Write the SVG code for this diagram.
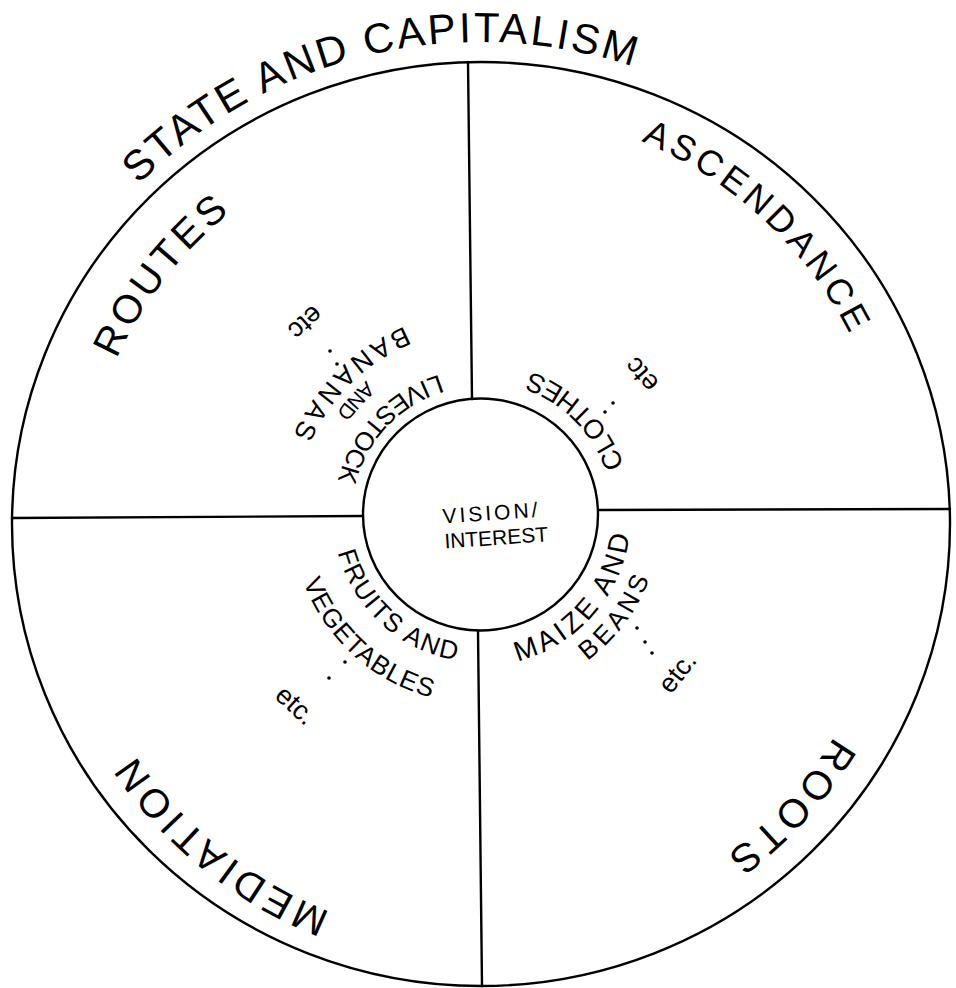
<svg xmlns="http://www.w3.org/2000/svg" width="956" height="988" viewBox="0 0 956 988">
<style>
  .ln{fill:none;stroke:#000;stroke-width:2.4;stroke-linecap:round}
  .t{font-family:"Liberation Sans","DejaVu Sans",sans-serif;fill:#000}
  .big{font-size:40px}
  .mid{font-size:27px}
  .sm{font-size:21px}
  .dot{fill:#000}
</style>
<defs>
  <path id="p-title" d="M 50.4 307.4 A 482 482 0 0 1 769.0 137.5"/>
  <path id="p-asc" d="M 430.4 112.1 A 415 415 0 0 1 895.4 545.7"/>
  <path id="p-roots" d="M 889.5 470.2 A 412 412 0 0 1 463.0 935.6"/>
  <path id="p-med" d="M 560.4 932.4 A 416 416 0 0 1 65.1 531.3"/>
  <path id="p-routes" d="M 89.8 607.2 A 400 400 0 0 1 467.0 124.2"/>
  <path id="p-clothes" d="M 626.8 554.3 A 152 152 0 0 0 440.7 368.2"/>
  <path id="p-live" d="M 514.1 373.0 A 146 146 0 0 0 340.0 556.5"/>
  <path id="p-and1" d="M 518.2 343.2 A 176 176 0 0 0 312.2 567.9"/>
  <path id="p-ban" d="M 532.5 319.0 A 203 203 0 0 0 284.0 567.5"/>
  <path id="p-fruits" d="M 336.2 484.4 A 147 147 0 0 0 525.4 654.8"/>
  <path id="p-veg" d="M 295.1 475.7 A 189 189 0 0 0 538.4 694.8"/>
  <path id="p-maize" d="M 451.2 663.2 A 151 151 0 0 0 622.8 465.8"/>
  <path id="p-beans" d="M 459.5 694.9 A 181 181 0 0 0 646.0 442.8"/>
</defs>
<rect width="956" height="988" fill="#fff"/>

<g id="outer-circle">
  <ellipse class="ln" cx="481" cy="524" rx="469" ry="462"/>
</g>

<g id="connectors">
  <line class="ln" x1="468" y1="62" x2="472" y2="399"/>
  <line class="ln" x1="478" y1="631" x2="482" y2="986"/>
  <line class="ln" x1="12" y1="518" x2="363" y2="516"/>
  <line class="ln" x1="598" y1="510" x2="950" y2="509"/>
</g>

<g id="title">
  <text class="t" font-size="42" letter-spacing="2.6"><textPath href="#p-title" startOffset="50%" text-anchor="middle">STATE AND CAPITALISM</textPath></text>
</g>

<g id="routes">
  <text class="t big" letter-spacing="4"><textPath href="#p-routes" startOffset="50%" text-anchor="middle">ROUTES</textPath></text>
</g>
<g id="ascendance">
  <text class="t" font-size="36" letter-spacing="4.4"><textPath href="#p-asc" startOffset="50%" text-anchor="middle">ASCENDANCE</textPath></text>
</g>
<g id="roots">
  <text class="t big" letter-spacing="4.6"><textPath href="#p-roots" startOffset="50%" text-anchor="middle">ROOTS</textPath></text>
</g>
<g id="mediation">
  <text class="t big" letter-spacing="4.3"><textPath href="#p-med" startOffset="50%" text-anchor="middle">MEDIATION</textPath></text>
</g>

<g id="center">
  <ellipse class="ln" cx="480.5" cy="514.5" rx="117.5" ry="116"/>
  <text class="t" font-size="21" text-anchor="middle" transform="rotate(-4 494 521)"><tspan x="492" y="520" letter-spacing="3">VISION/</tspan><tspan x="495" y="545">INTEREST</tspan></text>
</g>

<g id="clothes">
  <text class="t mid" letter-spacing="1.5"><textPath href="#p-clothes" startOffset="50%" text-anchor="middle">CLOTHES</textPath></text>
  <circle class="dot" cx="605" cy="412" r="1.8"/>
  <circle class="dot" cx="613" cy="403" r="1.8"/>
  <text class="t mid" text-anchor="middle" dy="0.35em" transform="translate(641 375) rotate(229)">etc</text>
</g>

<g id="livestock">
  <text class="t" font-size="26" letter-spacing="1"><textPath href="#p-live" startOffset="50%" text-anchor="middle">LIVESTOCK</textPath></text>
  <text class="t sm"><textPath href="#p-and1" startOffset="50%" text-anchor="middle">AND</textPath></text>
  <text class="t mid" letter-spacing="5"><textPath href="#p-ban" startOffset="50%" text-anchor="middle">BANANAS</textPath></text>
  <circle class="dot" cx="330" cy="351" r="1.8"/>
  <circle class="dot" cx="337" cy="364" r="1.8"/>
  <text class="t mid" text-anchor="middle" dy="0.35em" transform="translate(306 323) rotate(138)">etc</text>
</g>

<g id="fruits">
  <text class="t" font-size="26" letter-spacing="1.6"><textPath href="#p-fruits" startOffset="50%" text-anchor="middle">FRUITS AND</textPath></text>
  <text class="t" font-size="26" letter-spacing="1"><textPath href="#p-veg" startOffset="50%" text-anchor="middle">VEGETABLES</textPath></text>
  <circle class="dot" cx="345" cy="662" r="1.8"/>
  <circle class="dot" cx="329" cy="678" r="1.8"/>
  <text class="t mid" text-anchor="middle" dy="0.35em" transform="translate(296 705) rotate(42.7)">etc.</text>
</g>

<g id="maize">
  <text class="t" font-size="28" letter-spacing="3.5"><textPath href="#p-maize" startOffset="50%" text-anchor="middle">MAIZE AND</textPath></text>
  <text class="t" font-size="26" letter-spacing="4"><textPath href="#p-beans" startOffset="50%" text-anchor="middle">BEANS</textPath></text>
  <circle class="dot" cx="637" cy="628" r="1.8"/>
  <circle class="dot" cx="645" cy="642" r="1.8"/>
  <circle class="dot" cx="652" cy="653" r="1.8"/>
  <text class="t mid" text-anchor="middle" dy="0.35em" transform="translate(677 672) rotate(-51.5)">etc.</text>
</g>
</svg>
